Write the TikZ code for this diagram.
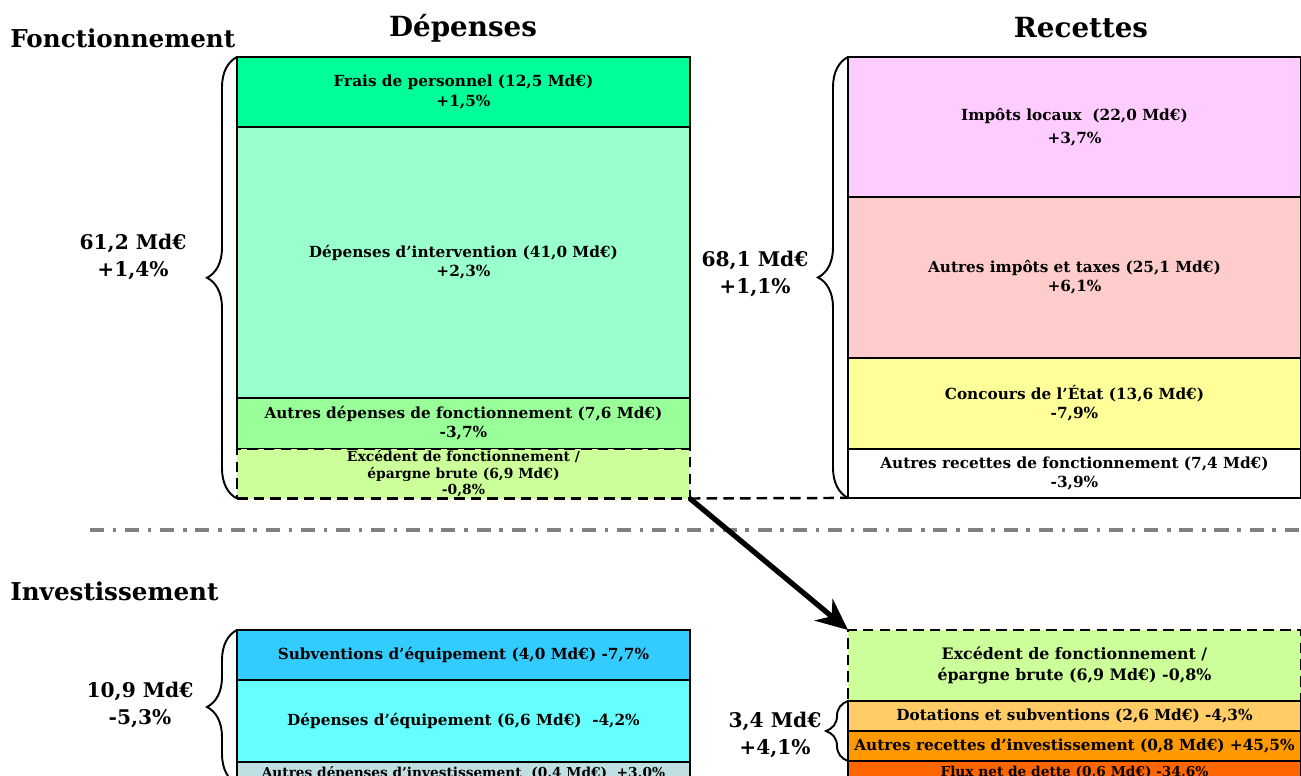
\documentclass[tikz,border=0pt]{standalone}
\usepackage{fontspec}
\setmainfont{DejaVu Serif}
\usetikzlibrary{positioning,decorations.pathreplacing,arrows.meta}

\definecolor{persocol}{HTML}{00FF99}
\definecolor{intercol}{HTML}{99FFCC}
\definecolor{autdfcol}{HTML}{99FF99}
\definecolor{excedcol}{HTML}{CCFF99}
\definecolor{impotcol}{HTML}{FFCCFF}
\definecolor{taxecol}{HTML}{FFCCCC}
\definecolor{etatcol}{HTML}{FFFF99}
\definecolor{subvcol}{HTML}{33CCFF}
\definecolor{equipcol}{HTML}{66FFFF}
\definecolor{autdicol}{HTML}{BFDFE3}
\definecolor{dotacol}{HTML}{FFCC66}
\definecolor{autricol}{HTML}{FF9900}
\definecolor{fluxcol}{HTML}{FF6600}

\tikzset{
  bloc/.style={draw, line width=0.7pt, minimum width=9.06cm, inner sep=1pt, outer sep=0pt,
    align=center, font=\fontsize{8.7}{11}\selectfont\bfseries},
  petit/.style={font=\fontsize{7.8}{9.3}\selectfont\bfseries},
  surplus/.style={bloc, fill=excedcol, dash pattern=on 6pt off 3.5pt, line width=1.4pt},
  pointille/.style={dash pattern=on 6pt off 3.5pt, line width=1.4pt},
  accol/.style={decorate, decoration={brace, amplitude=0.6cm}, line width=1.1pt},
  total/.style={font=\fontsize{11.5}{15}\selectfont\bfseries, align=center},
  titre/.style={font=\fontsize{15.8}{18}\selectfont\bfseries},
  section/.style={font=\fontsize{14}{16}\selectfont\bfseries, anchor=west, inner sep=0pt}
}

\begin{document}
\begin{tikzpicture}[x=0.02cm, y=-0.02cm]
  % cadre de l'image
  \useasboundingbox (0,0) rectangle (1301,776);
  \clip (0,0) rectangle (1301,776);

  % titres
  \node[section] (fonct) at (10,38) {Fonctionnement};
  \node[titre] (dep) at (463,28) {Dépenses};
  \node[titre] (rec) at (1081,28) {Recettes};
  \node[section] (invest) at (10,591) {Investissement};

  % dépenses de fonctionnement
  \node[bloc, fill=persocol, minimum height=1.40cm, anchor=north west] (perso) at (237,57) {Frais de personnel (12,5 Md€)\\+1,5\%};
  \node[bloc, fill=intercol, minimum height=5.42cm, below=0pt of perso] (inter) {Dépenses d’intervention (41,0 Md€)\\+2,3\%};
  \node[bloc, fill=autdfcol, minimum height=1.02cm, below=0pt of inter] (autdf) {Autres dépenses de fonctionnement (7,6 Md€)\\-3,7\%};
  \node[surplus, minimum height=0.98cm, below=0pt of autdf, font=\fontsize{7.9}{9.3}\selectfont\bfseries] (excf) {Excédent de fonctionnement /\\épargne brute (6,9 Md€)\\-0,8\%};

  % recettes de fonctionnement
  \node[bloc, fill=impotcol, minimum height=2.80cm, anchor=north west, font=\fontsize{8.7}{13}\selectfont\bfseries] (impot) at (848,57) {Impôts locaux~ (22,0 Md€)\\+3,7\%};
  \node[bloc, fill=taxecol, minimum height=3.22cm, below=0pt of impot] (taxe) {Autres impôts et taxes (25,1 Md€)\\+6,1\%};
  \node[bloc, fill=etatcol, minimum height=1.82cm, below=0pt of taxe] (etat) {Concours de l’État (13,6 Md€)\\-7,9\%};
  \node[bloc, fill=white, minimum height=0.98cm, below=0pt of etat] (autrf) {Autres recettes de fonctionnement (7,4 Md€)\\-3,9\%};

  % dépenses d'investissement
  \node[bloc, fill=subvcol, minimum height=1.00cm, anchor=north west] (subv) at (237,630) {Subventions d’équipement (4,0 Md€) -7,7\%};
  \node[bloc, fill=equipcol, minimum height=1.64cm, below=0pt of subv] (equip) {Dépenses d’équipement (6,6 Md€)~ -4,2\%};
  \node[bloc, petit, fill=autdicol, minimum height=0.44cm, below=0pt of equip] (autdi) {Autres dépenses d’investissement~ (0,4 Md€)~ +3,0\%};

  % recettes d'investissement
  \node[surplus, minimum height=1.42cm, anchor=north west, font=\fontsize{9}{12}\selectfont\bfseries] (exci) at (848,630) {Excédent de fonctionnement /\\épargne brute (6,9 Md€) -0,8\%};
  \node[bloc, fill=dotacol, minimum height=0.60cm, below=0pt of exci] (dota) {Dotations et subventions (2,6 Md€) -4,3\%};
  \node[bloc, fill=autricol, minimum height=0.60cm, below=0pt of dota] (autri) {Autres recettes d’investissement (0,8 Md€) +45,5\%};
  \node[bloc, petit, fill=fluxcol, minimum height=0.44cm, below=0pt of autri] (flux) {Flux net de dette (0,6 Md€) -34,6\%};

  % accolades et totaux
  \draw[accol] (excf.south west) -- (perso.north west);
  \draw[accol] (autrf.south west) -- (impot.north west);
  \draw[accol] (autdi.south west) -- (subv.north west);
  \draw[accol, decoration={amplitude=0.44cm}] (autri.south west) -- (dota.north west);
  \node[total] (totdf) at (133,257) {61,2 Md€\\+1,4\%};
  \node[total] (totrf) at (755,274) {68,1 Md€\\+1,1\%};
  \node[total] (totdi) at (140,705) {10,9 Md€\\-5,3\%};
  \node[total] (totri) at (775,735) {3,4 Md€\\+4,1\%};

  % liaison fonctionnement -> investissement
  \draw[pointille] (excf.south east) -- (autrf.south west);
  \draw[gray, line width=2.2pt, dash pattern=on 8pt off 5pt on 2pt off 5pt] (90,530) -- (1301,530);
  \draw[line width=3pt, -{Stealth[length=18pt, width=16pt]}] (excf.south east) -- (exci.north west);
\end{tikzpicture}
\end{document}
